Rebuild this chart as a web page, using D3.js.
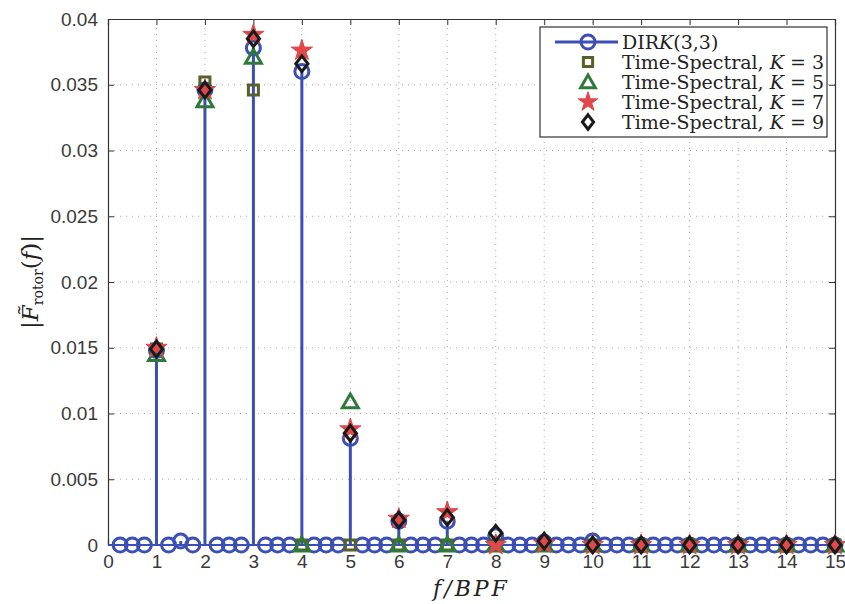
<!DOCTYPE html>
<html>
<head>
<meta charset="utf-8">
<script src="https://cdn.jsdelivr.net/npm/d3@7"></script>
<style>
  body { margin: 0; background: #fff; }
  svg { display: block; }
</style>
</head>
<body>
<script>
// DIRK(3,3) spectrum, sampled every quarter of BPF
var dirkFreq = d3.range(1, 61).map(function(k) { return k / 4; });
// nonzero values (others ~0)
var dirkPeaks = {
    1: 0.0148, 1.5: 0.0003, 2: 0.0346, 3: 0.0378, 4: 0.0360, 5: 0.0081,
    6: 0.0018, 7: 0.0018, 8: 0.0007, 9: 0.0002, 10: 0.0003
};
var dirkValues = dirkFreq.map(function(f) { return dirkPeaks[f] || 0; });

// time-spectral harmonics 1..15
var harmonics = d3.range(1, 16);
var ts3 = [0.0149, 0.0352, 0.0346, 0, 0, 0, 0, 0, 0, 0, 0, 0, 0, 0, 0];
var ts5 = [0.0145, 0.0338, 0.0371, 0, 0.0109, 0, 0, 0, 0, 0, 0, 0, 0, 0, 0];
var ts7 = [0.0150, 0.0346, 0.0388, 0.0376, 0.0088, 0.0020, 0.0025, 0, 0.0001, 0, 0, 0, 0, 0, 0];
var ts9 = [0.0149, 0.0346, 0.0385, 0.0366, 0.0085, 0.0019, 0.0021, 0.0009, 0.0003, 0, 0, 0, 0, 0, 0];

var xTicks = d3.range(0, 16);
var yTicks = [0, 0.005, 0.01, 0.015, 0.02, 0.025, 0.03, 0.035, 0.04];
var yTickLabels = ["0", "0.005", "0.01", "0.015", "0.02", "0.025", "0.03", "0.035", "0.04"];

var legendLabels = ["DIRK(3,3)", "Time-Spectral, K = 3", "Time-Spectral, K = 5", "Time-Spectral, K = 7", "Time-Spectral, K = 9"];

var width = 845;
var height = 604;
var margin = {left: 108, right: 10, top: 19, bottom: 59};

var svg = d3.select("body")
    .append("svg")
    .attr("width", width)
    .attr("height", height);

var x = d3.scaleLinear().domain([0, 15]).range([margin.left, width - margin.right]);
var y = d3.scaleLinear().domain([0, 0.04]).range([height - margin.bottom, margin.top]);

var blue = "#3c4fb4";
var olive = "#56612a";
var green = "#2f7a3a";
var red = "#e0484a";
var black = "#1a1a1a";

// wide matlab-like diamond
var wideDiamond = {
    draw: function(context, size) {
        var h = Math.sqrt(size) * 0.78, w = h * 0.78;
        context.moveTo(0, -h);
        context.lineTo(w, 0);
        context.lineTo(0, h);
        context.lineTo(-w, 0);
        context.closePath();
    }
};

// grid
var grid = svg.append("g")
    .attr("stroke", "#a8a8a8")
    .attr("stroke-width", 1)
    .attr("stroke-dasharray", "1,5");
grid.selectAll("line.vx")
    .data(xTicks.slice(1, -1))
    .enter()
    .append("line")
    .attr("x1", function(d) { return x(d); })
    .attr("x2", function(d) { return x(d); })
    .attr("y1", y(0))
    .attr("y2", y(0.04));
grid.selectAll("line.hy")
    .data(yTicks.slice(1, -1))
    .enter()
    .append("line")
    .attr("x1", x(0))
    .attr("x2", x(15))
    .attr("y1", function(d) { return y(d); })
    .attr("y2", function(d) { return y(d); });

// axes (ticks inside, on all four sides)
var tickLen = 6;
var axB = svg.append("g").attr("transform", "translate(0," + y(0) + ")")
    .call(d3.axisBottom(x).tickValues(xTicks).tickSize(-tickLen).tickPadding(10).tickFormat(d3.format("d")));
var axT = svg.append("g").attr("transform", "translate(0," + y(0.04) + ")")
    .call(d3.axisTop(x).tickValues(xTicks).tickSize(-tickLen).tickFormat(""));
var axL = svg.append("g").attr("transform", "translate(" + x(0) + ",0)")
    .call(d3.axisLeft(y).tickValues(yTicks).tickSize(-tickLen).tickPadding(10)
        .tickFormat(function(d, i) { return yTickLabels[i]; }));
var axR = svg.append("g").attr("transform", "translate(" + x(15) + ",0)")
    .call(d3.axisRight(y).tickValues(yTicks).tickSize(-tickLen).tickFormat(""));

[axB, axT, axL, axR].forEach(function(a) {
    a.selectAll(".domain").attr("stroke", "#333").attr("stroke-width", 1.2);
    a.selectAll(".tick line").attr("stroke", "#333");
    a.selectAll("text")
        .attr("fill", "#3a3a3a")
        .style("font-family", "'Liberation Sans', Arial, sans-serif")
        .style("font-size", "19px");
});

// DIRK stems
var plot = svg.append("g");
plot.selectAll("line.stem")
    .data(dirkFreq)
    .enter()
    .append("line")
    .attr("x1", function(d) { return x(d); })
    .attr("x2", function(d) { return x(d); })
    .attr("y1", y(0))
    .attr("y2", function(d, i) { return y(dirkValues[i]); })
    .attr("stroke", blue)
    .attr("stroke-width", 3);
// baseline
plot.append("line")
    .attr("x1", x(0)).attr("x2", x(15))
    .attr("y1", y(0)).attr("y2", y(0))
    .attr("stroke", blue)
    .attr("stroke-width", 2);
plot.selectAll("circle.dirk")
    .data(dirkFreq)
    .enter()
    .append("circle")
    .attr("cx", function(d) { return x(d); })
    .attr("cy", function(d, i) { return y(dirkValues[i]); })
    .attr("r", 7)
    .attr("fill", "none")
    .attr("stroke", blue)
    .attr("stroke-width", 3);

// time-spectral markers
var series = [
    {vals: ts3, shape: d3.symbolSquare, size: 100, fill: "none", stroke: olive, sw: 3},
    {vals: ts5, shape: d3.symbolTriangle, size: 110, fill: "none", stroke: green, sw: 3},
    {vals: ts7, shape: d3.symbolStar, size: 140, fill: red, stroke: red, sw: 1},
    {vals: ts9, shape: wideDiamond, size: 100, fill: "none", stroke: black, sw: 3}
];
series.forEach(function(s) {
    plot.selectAll(null)
        .data(harmonics)
        .enter()
        .append("path")
        .attr("d", d3.symbol().type(s.shape).size(s.size))
        .attr("transform", function(d, i) {
            var dy = s.shape === d3.symbolTriangle ? 1.5 : 0;
            return "translate(" + x(d) + "," + (y(s.vals[i]) + dy) + ")";
        })
        .attr("fill", s.fill)
        .attr("stroke", s.stroke)
        .attr("stroke-width", s.sw)
        .attr("stroke-linejoin", "miter");
});

// legend
var leg = svg.append("g").attr("transform", "translate(540,27)");
leg.append("rect")
    .attr("width", 287)
    .attr("height", 110)
    .attr("fill", "#fff")
    .attr("stroke", "#333")
    .attr("stroke-width", 1.2);
var legY = [15, 35, 55, 75, 95];
leg.append("line")
    .attr("x1", 15).attr("x2", 78)
    .attr("y1", legY[0]).attr("y2", legY[0])
    .attr("stroke", blue).attr("stroke-width", 3);
leg.append("circle")
    .attr("cx", 48).attr("cy", legY[0]).attr("r", 7)
    .attr("fill", "none").attr("stroke", blue).attr("stroke-width", 3);
series.forEach(function(s, i) {
    leg.append("path")
        .attr("d", d3.symbol().type(s.shape).size(s.size * 0.85))
        .attr("transform", "translate(48," + (legY[i + 1] + (s.shape === d3.symbolTriangle ? 1.5 : 0)) + ")")
        .attr("fill", s.fill)
        .attr("stroke", s.stroke)
        .attr("stroke-width", s.sw);
});
leg.selectAll("text")
    .data(legendLabels)
    .enter()
    .append("text")
    .attr("x", 82)
    .attr("y", function(d, i) { return legY[i] + 7; })
    .style("font-family", "'DejaVu Serif', 'Liberation Serif', serif")
    .style("font-size", "19px")
    .attr("fill", "#222")
    .each(function(d) {
        var t = d3.select(this);
        var k = d.indexOf("K");
        if (k < 0) { t.text(d); return; }
        t.append("tspan").text(d.slice(0, k));
        t.append("tspan").style("font-style", "italic").text("K");
        t.append("tspan").text(d.slice(k + 1));
    });

// axis labels
var xl = svg.append("text")
    .attr("x", (x(0) + x(15)) / 2)
    .attr("y", 596)
    .attr("text-anchor", "middle")
    .style("font-family", "'DejaVu Serif', 'Liberation Serif', serif")
    .style("font-size", "22px")
    .style("font-style", "italic")
    .style("letter-spacing", "3px")
    .attr("fill", "#222")
    .text("f/BPF");

var yl = svg.append("text")
    .attr("transform", "translate(38," + ((y(0) + y(0.04)) / 2) + ") rotate(-90)")
    .attr("text-anchor", "middle")
    .style("font-family", "'DejaVu Serif', 'Liberation Serif', serif")
    .style("font-size", "23px")
    .attr("fill", "#222");
yl.append("tspan").text("|");
yl.append("tspan").style("font-style", "italic").text("F\u0303");
yl.append("tspan").attr("dy", 5).style("font-size", "14px").text("rotor");
yl.append("tspan").attr("dy", -5).text("(");
yl.append("tspan").style("font-style", "italic").text("f");
yl.append("tspan").text(")|");
</script>
</body>
</html>
